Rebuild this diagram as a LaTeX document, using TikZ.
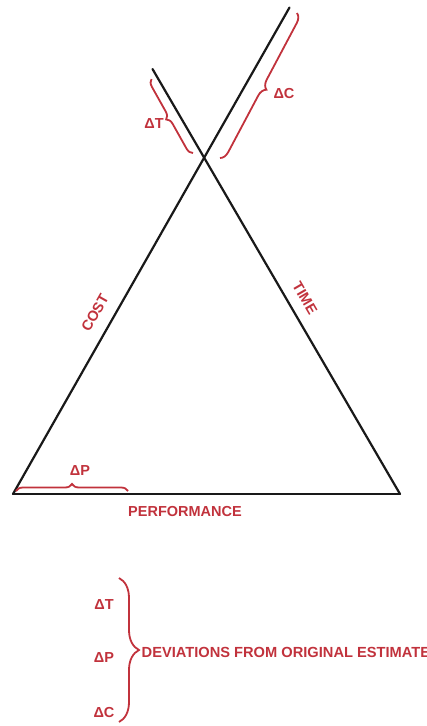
\documentclass[tikz,border=0pt]{standalone}
\usepackage{fontspec}
\setmainfont{Liberation Sans}
\usetikzlibrary{decorations.pathreplacing}
\definecolor{dred}{RGB}{193,50,60}
\begin{document}
\begin{tikzpicture}[x=1pt,y=-1pt,
  edge/.style={line width=2.2pt,black!90,line cap=round},
  brc/.style={draw=dred,line width=1.8pt,decorate,decoration={brace,amplitude=#1}},
  lbl/.style={text=dred,font=\fontsize{14.5}{17}\selectfont\bfseries,inner sep=0pt}]
\useasboundingbox (0,0) rectangle (426,726);
% triangle
\coordinate (A) at (13,494);
\coordinate (B) at (400,494);
\coordinate (Ctop) at (289.5,7.5);
\coordinate (Ttop) at (152.5,69);
\draw[edge] (A) -- (B);
\draw[edge] (A) -- (Ctop);
\draw[edge] (B) -- (Ttop);
% braces
\coordinate (dTa) at (193,153);
\coordinate (dTb) at (151.5,79);
\coordinate (dCa) at (297,13);
\coordinate (dCb) at (220,158);
\coordinate (dPa) at (16,491);
\coordinate (dPb) at (128,491);
\draw[brc=7pt] (dTa) -- (dTb);
\draw[brc=9pt] (dCa) -- (dCb);
\draw[brc=7pt] (dPa) -- (dPb);
\node[lbl] (lT) at (154,124) {ΔT};
\node[lbl] (lC) at (284,94) {ΔC};
\node[lbl] (lP) at (80,471) {ΔP};
\node[lbl] (perf) at (185,512) {PERFORMANCE};
\node[lbl,rotate=60.4] (cost) at (95,313) {COST};
\node[lbl,rotate=-59.8] (time) at (305,298) {TIME};
% legend
\node[lbl] (gT) at (104,605) {ΔT};
\node[lbl] (gP) at (104,658) {ΔP};
\node[lbl] (gC) at (104,712) {ΔC};
\coordinate (La) at (119,578);
\coordinate (Lb) at (119,722);
\draw[brc=20pt] (La) -- (Lb);
\node[lbl,anchor=west,font=\fontsize{14.65}{17}\selectfont\bfseries] (dev) at (141.5,652) {DEVIATIONS FROM ORIGINAL ESTIMATE};
\end{tikzpicture}
\end{document}
